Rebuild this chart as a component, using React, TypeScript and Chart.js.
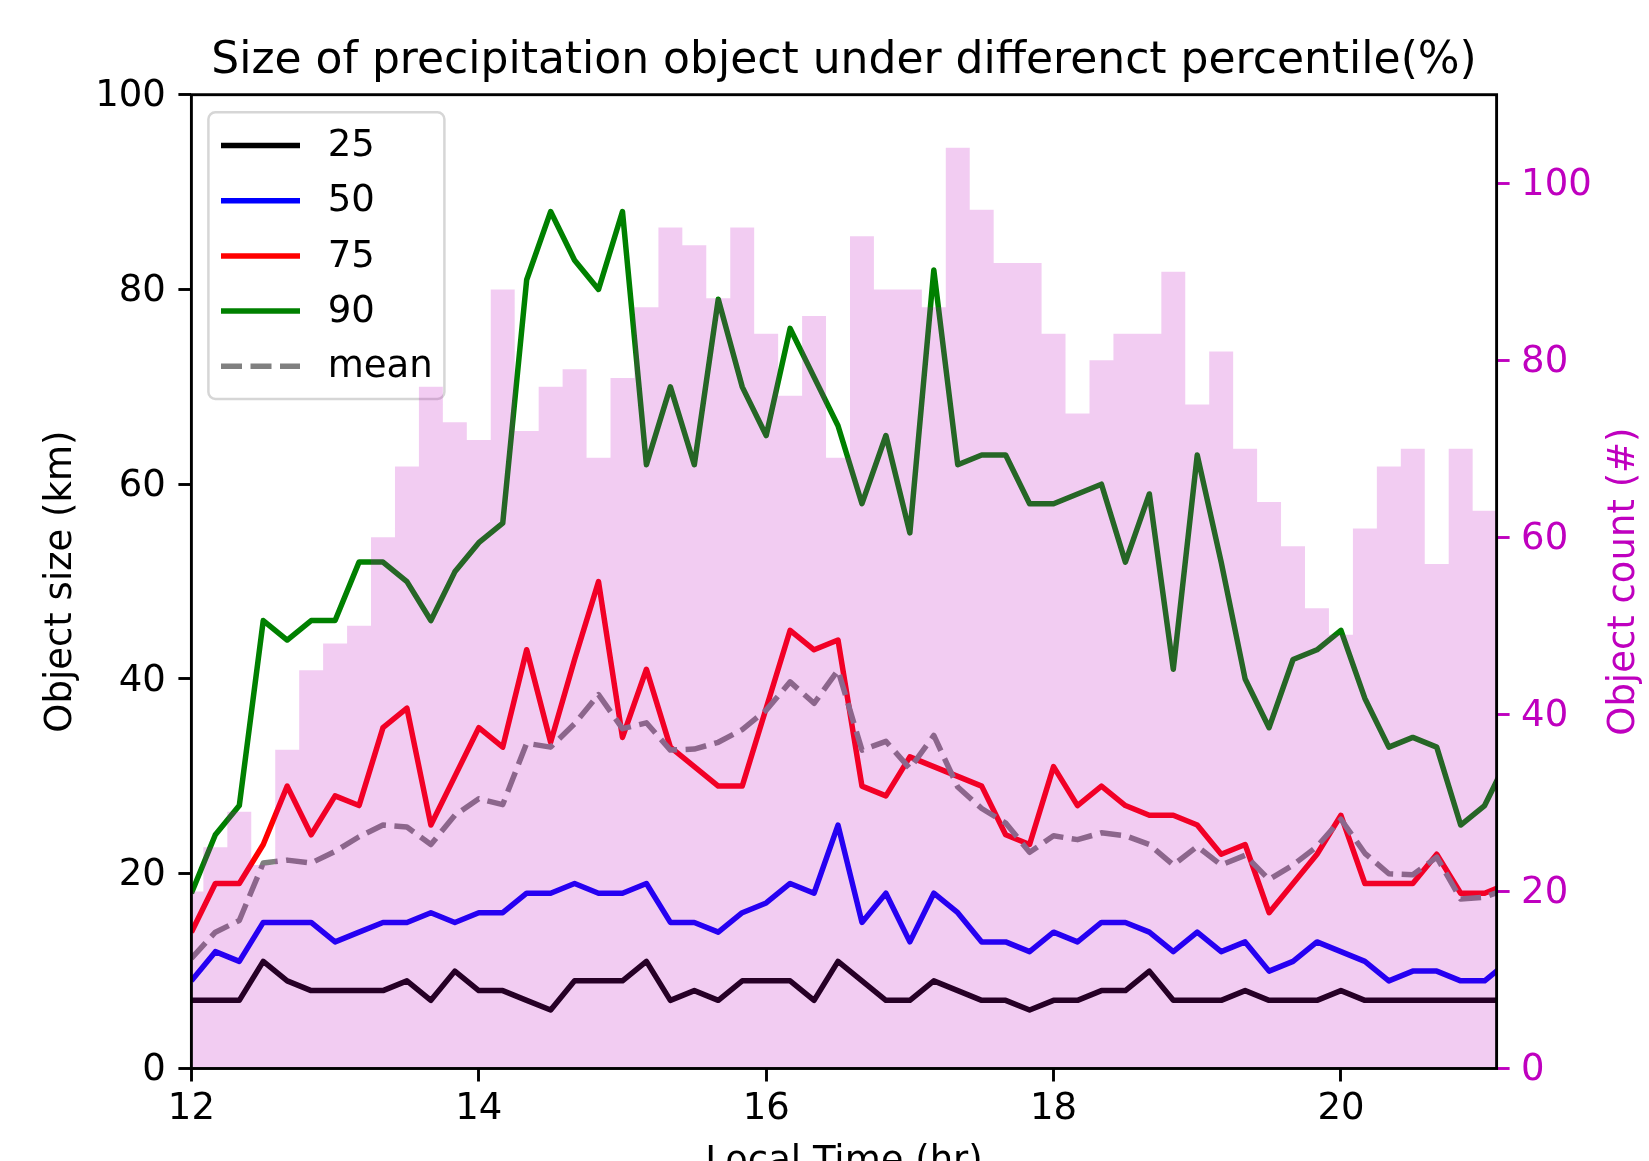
import { useEffect, useRef } from 'react';
import { Chart, registerables } from 'chart.js';

Chart.register(...registerables);

// ---- data (10-minute steps, local time) ----
const times = [
  '12:00', '12:10', '12:20', '12:30', '12:40', '12:50',
  '13:00', '13:10', '13:20', '13:30', '13:40', '13:50',
  '14:00', '14:10', '14:20', '14:30', '14:40', '14:50',
  '15:00', '15:10', '15:20', '15:30', '15:40', '15:50',
  '16:00', '16:10', '16:20', '16:30', '16:40', '16:50',
  '17:00', '17:10', '17:20', '17:30', '17:40', '17:50',
  '18:00', '18:10', '18:20', '18:30', '18:40', '18:50',
  '19:00', '19:10', '19:20', '19:30', '19:40', '19:50',
  '20:00', '20:10', '20:20', '20:30', '20:40', '20:50',
  '21:00', '21:10',
];

const p25 = [7, 7, 7, 11, 9, 8, 8, 8, 8, 9, 7, 10, 8, 8, 7, 6, 9, 9, 9, 11, 7, 8, 7, 9, 9, 9, 7, 11, 9, 7, 7, 9, 8, 7, 7, 6, 7, 7, 8, 8, 10, 7, 7, 7, 8, 7, 7, 7, 8, 7, 7, 7, 7, 7, 7, 7];
const p50 = [9, 12, 11, 15, 15, 15, 13, 14, 15, 15, 16, 15, 16, 16, 18, 18, 19, 18, 18, 19, 15, 15, 14, 16, 17, 19, 18, 25, 15, 18, 13, 18, 16, 13, 13, 12, 14, 13, 15, 15, 14, 12, 14, 12, 13, 10, 11, 13, 12, 11, 9, 10, 10, 9, 9, 11];
const p75 = [14, 19, 19, 23, 29, 24, 28, 27, 35, 37, 25, 30, 35, 33, 43, 33.5, 42, 50, 34, 41, 33, 31, 29, 29, 37, 45, 43, 44, 29, 28, 32, 31, 30, 29, 24, 23, 31, 27, 29, 27, 26, 26, 25, 22, 23, 16, 19, 22, 26, 19, 19, 19, 22, 18, 18, 19];
const p90 = [18, 24, 27, 46, 44, 46, 46, 52, 52, 50, 46, 51, 54, 56, 81, 88, 83, 80, 88, 62, 70, 62, 79, 70, 65, 76, 71, 66, 58, 65, 55, 82, 62, 63, 63, 58, 58, 59, 60, 52, 59, 41, 63, 52, 40, 35, 42, 43, 45, 38, 33, 34, 33, 25, 27, 32];
const meanSize = [11.3, 14, 15.2, 21.1, 21.4, 21.1, 22.3, 23.8, 25, 24.8, 23, 26, 27.7, 27.1, 33.4, 33, 35.4, 38.4, 34.9, 35.5, 32.7, 32.8, 33.5, 34.8, 36.8, 39.7, 37.5, 40.9, 32.7, 33.6, 30.8, 34.2, 28.9, 26.7, 25.2, 22.2, 23.9, 23.5, 24.2, 23.9, 23, 20.9, 22.8, 20.9, 21.9, 19.4, 20.9, 22.8, 25.6, 22.1, 20, 19.9, 21.7, 17.4, 17.6, 18.5];
// object count per 10-minute bin (12:00 .. 21:00)
const objectCount = [20, 25, 29, 23, 36, 45, 48, 50, 60, 68, 77, 73, 71, 88, 72, 77, 79, 69, 78, 86, 95, 93, 87, 95, 83, 76, 85, 69, 94, 88, 88, 86, 104, 97, 91, 91, 83, 74, 80, 83, 83, 90, 75, 81, 70, 64, 59, 52, 49, 61, 68, 70, 57, 70, 63];

const xTickValues = [12, 14, 16, 18, 20];
const leftTickValues = [0, 20, 40, 60, 80, 100];
const rightTickValues = [0, 20, 40, 60, 80, 100];

const seriesLabels = ['25', '50', '75', '90', 'mean'];

const titleText = 'Size of precipitation object under differenct percentile(%)';
const xTitle = 'Local Time (hr)';
const yTitle = 'Object size (km)';
const y2Title = 'Object count (#)';

// ---- styles ----
const MAGENTA = '#bf00bf';
const HIST_FILL = 'rgba(191,0,191,0.2)';
const FONT = "'DejaVu Sans', 'Liberation Sans', sans-serif";
const LINE_W = 5.5;
const seriesColors = ['#000000', '#0000ff', '#ff0000', '#008000', '#808080'];
const seriesDash: number[][] = [[], [], [], [], [21, 8.5]];

const hours = times.map((t) => {
  const [h, m] = t.split(':').map(Number);
  return h + m / 60;
});

function App() {
  const ref = useRef<HTMLCanvasElement | null>(null);

  useEffect(() => {
    const canvas = ref.current;
    if (!canvas) return;

    const toXY = (arr: number[]) => arr.map((v, i) => ({ x: hours[i], y: v }));
    const seriesData = [p25, p50, p75, p90, meanSize];

    const lineSets = seriesData.map((arr, k) => ({
      type: 'line' as const,
      label: seriesLabels[k],
      data: toXY(arr),
      borderColor: seriesColors[k],
      backgroundColor: seriesColors[k],
      borderWidth: LINE_W,
      borderDash: seriesDash[k],
      borderJoinStyle: 'round' as const,
      borderCapStyle: 'butt' as const,
      pointRadius: 0,
      tension: 0,
      fill: false,
      clip: 0,
      yAxisID: 'y',
      order: 5 - k,
    }));

    const histSet = {
      type: 'bar' as const,
      label: 'count',
      data: toXY(objectCount),
      backgroundColor: HIST_FILL,
      borderWidth: 0,
      barPercentage: 1.0,
      categoryPercentage: 1.0,
      clip: 0,
      yAxisID: 'y2',
      order: 0,
    };

    const drawLegend = (chart: any) => {
      const ctx = chart.ctx as CanvasRenderingContext2D;
      const a = chart.chartArea;
      const bx = a.left + 17;
      const by = a.top + 17.6;
      const bw = 236;
      const bh = 286.7;
      const r = 7;
      ctx.save();
      ctx.beginPath();
      ctx.moveTo(bx + r, by);
      ctx.lineTo(bx + bw - r, by);
      ctx.arcTo(bx + bw, by, bx + bw, by + r, r);
      ctx.lineTo(bx + bw, by + bh - r);
      ctx.arcTo(bx + bw, by + bh, bx + bw - r, by + bh, r);
      ctx.lineTo(bx + r, by + bh);
      ctx.arcTo(bx, by + bh, bx, by + bh - r, r);
      ctx.lineTo(bx, by + r);
      ctx.arcTo(bx, by, bx + r, by, r);
      ctx.closePath();
      ctx.fillStyle = 'rgba(255,255,255,0.8)';
      ctx.fill();
      ctx.strokeStyle = '#d6d6d6';
      ctx.lineWidth = 2.5;
      ctx.stroke();

      ctx.font = `37px ${FONT}`;
      ctx.textAlign = 'left';
      ctx.textBaseline = 'middle';
      seriesLabels.forEach((lab, k) => {
        const yy = by + 33.2 + k * 55.2;
        ctx.beginPath();
        ctx.setLineDash(seriesDash[k]);
        ctx.lineCap = 'butt';
        ctx.strokeStyle = seriesColors[k];
        ctx.lineWidth = LINE_W;
        ctx.moveTo(a.left + 29.6, yy);
        ctx.lineTo(a.left + 108.6, yy);
        ctx.stroke();
        ctx.setLineDash([]);
        ctx.fillStyle = '#000';
        ctx.fillText(lab, a.left + 136.3, yy + 1);
      });
      ctx.restore();
    };

    // draw the histogram bars (geometry from the bar controller) as one path, so
    // adjacent translucent bars do not leave seams between them
    const drawHistogram = (chart: any, meta: any) => {
      const ctx = chart.ctx as CanvasRenderingContext2D;
      const a = chart.chartArea;
      ctx.save();
      ctx.beginPath();
      ctx.rect(a.left, a.top, a.right - a.left, a.bottom - a.top);
      ctx.clip();
      ctx.beginPath();
      meta.data.forEach((el: any) => {
        const p = el.getProps(['x', 'y', 'base', 'width'], true);
        const left = p.x - p.width / 2;
        const top = Math.min(p.y, p.base);
        const h = Math.abs(p.base - p.y);
        ctx.moveTo(left, top);
        ctx.lineTo(left + p.width, top);
        ctx.lineTo(left + p.width, top + h);
        ctx.lineTo(left, top + h);
        ctx.closePath();
      });
      ctx.fillStyle = HIST_FILL;
      ctx.fill('nonzero');
      ctx.restore();
    };

    const decor = {
      id: 'decor',
      beforeDatasetDraw(chart: any, args: any) {
        if (args.meta && args.meta.type === 'bar') {
          drawLegend(chart);
          drawHistogram(chart, args.meta);
          return false;
        }
        return true;
      },
      afterDatasetsDraw(chart: any) {
        const ctx = chart.ctx as CanvasRenderingContext2D;
        const a = chart.chartArea;
        ctx.save();
        ctx.strokeStyle = '#000';
        ctx.lineWidth = 2.9;
        ctx.strokeRect(a.left, a.top, a.right - a.left, a.bottom - a.top);
        ctx.restore();
      },
      afterDraw(chart: any) {
        const ctx = chart.ctx as CanvasRenderingContext2D;
        const a = chart.chartArea;
        const cx = (a.left + a.right) / 2;
        const cy = (a.top + a.bottom) / 2;
        ctx.save();
        ctx.fillStyle = '#000';
        ctx.textAlign = 'center';
        ctx.textBaseline = 'alphabetic';
        ctx.font = `44px ${FONT}`;
        ctx.fillText(titleText, cx, a.top - 22);

        ctx.font = `37px ${FONT}`;
        ctx.fillText(xTitle, cx, a.bottom + 103.5);

        ctx.save();
        ctx.translate(a.left - 120, cy);
        ctx.rotate(-Math.PI / 2);
        ctx.fillText(yTitle, 0, 0);
        ctx.restore();

        ctx.save();
        ctx.fillStyle = MAGENTA;
        ctx.translate(a.right + 137.5, cy);
        ctx.rotate(-Math.PI / 2);
        ctx.fillText(y2Title, 0, 0);
        ctx.restore();

        ctx.restore();
      },
    };

    const chart = new Chart(canvas, {
      type: 'line',
      data: { datasets: [...lineSets, histSet] as any },
      options: {
        animation: false,
        responsive: false,
        events: [],
        layout: { padding: { top: 94.7, left: 0, right: 0, bottom: 0 } },
        plugins: {
          legend: { display: false },
          tooltip: { enabled: false },
          title: { display: false },
        },
        scales: {
          x: {
            type: 'linear',
            min: 12,
            max: 21 + 1 / 12,
            offset: false,
            grid: { drawOnChartArea: false, drawTicks: true, tickLength: 13, tickWidth: 2.9, tickColor: '#000', offset: false },
            border: { display: false },
            ticks: { font: { size: 37, family: FONT }, color: '#000', padding: 6, maxRotation: 0, autoSkip: false, includeBounds: false },
            afterBuildTicks: (s: any) => { s.ticks = xTickValues.map((v) => ({ value: v })); },
            afterFit: (s: any) => { s.height = 92.5; },
          },
          y: {
            type: 'linear',
            position: 'left',
            min: 0,
            max: 100,
            grid: { drawOnChartArea: false, drawTicks: true, tickLength: 13, tickWidth: 2.9, tickColor: '#000' },
            border: { display: false },
            ticks: { font: { size: 37, family: FONT }, color: '#000', padding: 12.5, labelOffset: 2, includeBounds: false },
            afterBuildTicks: (s: any) => { s.ticks = leftTickValues.map((v) => ({ value: v })); },
            afterFit: (s: any) => { s.width = 191.4; },
          },
          y2: {
            type: 'linear',
            position: 'right',
            min: 0,
            max: 110,
            grid: { drawOnChartArea: false, drawTicks: true, tickLength: 13, tickWidth: 2.9, tickColor: MAGENTA },
            border: { display: false },
            ticks: { font: { size: 37, family: FONT }, color: MAGENTA, padding: 11.5, labelOffset: 2, includeBounds: false },
            afterBuildTicks: (s: any) => { s.ticks = rightTickValues.map((v) => ({ value: v })); },
            afterFit: (s: any) => { s.width = 152.4; },
          },
        },
      } as any,
      plugins: [decor],
    });

    return () => chart.destroy();
  }, []);

  return (
    <div style={{ position: 'absolute', left: 0, top: 0, width: 1649, height: 1161, background: '#fff' }}>
      <canvas ref={ref} width={1649} height={1161} style={{ display: 'block', width: 1649, height: 1161 }} />
    </div>
  );
}

export default App;
